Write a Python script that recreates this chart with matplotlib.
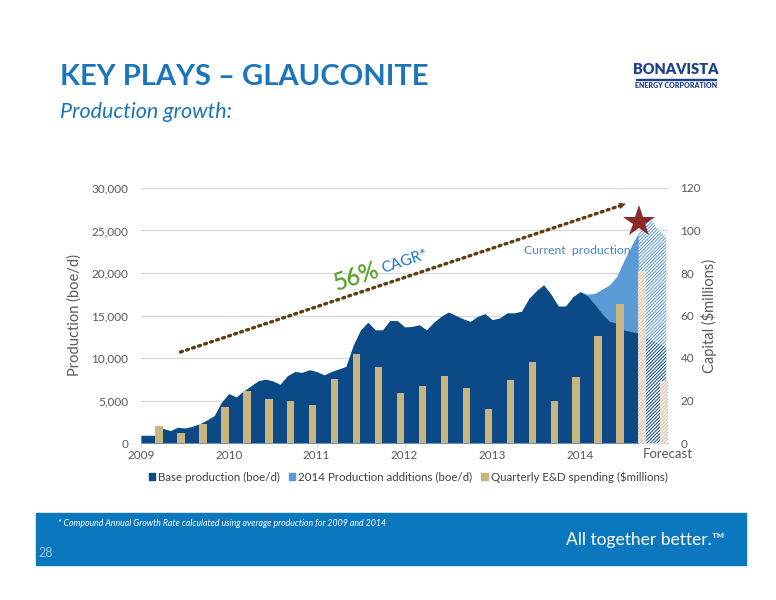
import matplotlib
matplotlib.use('Agg')
import matplotlib.pyplot as plt
from matplotlib.patches import Rectangle, Patch
import numpy as np

plt.rcParams['font.family'] = ['Lato', 'DejaVu Sans']
plt.rcParams['hatch.linewidth'] = 0.7

# monthly base production (boe/d), Jan 2009 .. Sep 2014
base_prod = [900, 900, 900, 1700, 1450, 1850, 1750, 1950, 2250, 2700, 3200, 4800,
             5800, 5400, 6100, 6700, 7300, 7500, 7300, 6900, 7900, 8400, 8300, 8600,
             8400, 8000, 8400, 8700, 9000, 11500, 13300, 14200, 13300, 13300, 14400, 14400,
             13650, 13700, 13900, 13300, 14200, 14900, 15400, 15000, 14600, 14300, 14900, 15200,
             14500, 14700, 15300, 15300, 15500, 17000, 17900, 18600, 17500, 16100, 16100, 17200,
             17800, 17300, 16300, 15200, 14300, 14100, 13300, 13100, 12900]
# 2014 production additions (boe/d), Jan 2014 .. Sep 2014
additions_2014 = [0, 200, 1300, 2900, 4300, 5500, 8200, 10100, 11900]

# forecast (Sep 2014 .. Dec 2014)
fc_time = [2014.667, 2014.75, 2014.80, 2014.87, 2014.98]
fc_base = [12700, 12400, 12200, 11800, 11300]
fc_total = [24800, 26000, 26500, 25300, 24200]

# quarterly E&D spending ($millions), Q1 2009 .. Q2 2014, then forecast Q3/Q4 2014
capex = [8.1, 4.6, 8.9, 16.9, 24.5, 20.7, 19.6, 17.9, 30.1, 41.9, 35.8, 23.5,
         26.8, 31.5, 25.9, 16.0, 29.6, 38.1, 19.8, 31.1, 50.4, 65.4]
capex_fc = [81, 29.2]

years = [2009, 2010, 2011, 2012, 2013, 2014]
current_prod = 26000

navy = '#0b4a87'
light = '#5b9bd5'
tan = '#c8b57f'
peach = '#e2b391'
grey = '#595959'
blue = '#1a75bb'

t = 2009 + np.arange(len(base_prod)) / 12.0
total = np.array(base_prod, dtype=float)
total[-len(additions_2014):] += additions_2014

fig = plt.figure(figsize=(7.76, 6), dpi=100)
ax = fig.add_axes([141 / 776, 1 - 443 / 600, 527 / 776, 255 / 600])
ax2 = ax.twinx()

ax.fill_between(t, 0, total, color=light, linewidth=0, zorder=2)
ax.fill_between(t, 0, base_prod, color=navy, linewidth=0, zorder=3)
ax.fill_between(fc_time, fc_base, fc_total, facecolor='white', edgecolor=light,
                hatch='//////////', linewidth=0, zorder=2)
ax.fill_between(fc_time, 0, fc_base, facecolor='white', edgecolor=navy,
                hatch='//////////', linewidth=0, zorder=3)

ax.set_xlim(2009, 2015)
ax.set_ylim(0, 30000)
ax.set_yticks(range(0, 30001, 5000))
ax.set_yticklabels([f'{v:,}' for v in range(0, 30001, 5000)])
ax.set_xticks(years)
ax.set_xticklabels([str(y) for y in years])
ax.grid(axis='y', color='#d9d9d9', linewidth=1, zorder=0)
ax.set_axisbelow(True)
for s in ['top', 'left', 'right']:
    ax.spines[s].set_visible(False)
ax.spines['bottom'].set_color('#d9d9d9')
ax.tick_params(axis='y', length=0, labelsize=8.5, labelcolor=grey, pad=9)
ax.tick_params(axis='x', length=3, color='#d9d9d9', labelsize=8.5, labelcolor=grey, pad=2)
ax.set_ylabel('Production (boe/d)', fontsize=10.5, color=grey, labelpad=7)

# bars on capital axis
qpos = 2009.205 + 0.25 * np.arange(len(capex))
ax2.bar(qpos, capex, width=0.085, color=tan, zorder=3)
fpos = 2009.205 + 0.25 * np.arange(len(capex), len(capex) + len(capex_fc))
ax2.bar(fpos, capex_fc, width=0.085, facecolor='white', edgecolor=peach,
        hatch='//////////', linewidth=0, zorder=3)
ax2.set_ylim(0, 120)
ax2.set_yticks(range(0, 121, 20))
for s in ax2.spines.values():
    s.set_visible(False)
ax2.tick_params(axis='y', length=0, labelsize=8.5, labelcolor=grey, pad=9)
ax2.set_ylabel('Capital ($millions)', fontsize=10.5, color=grey, labelpad=0)

# CAGR arrow
ax2.plot([2009.45, 2014.45], [42.8, 111.6], linestyle=(0, (0.6, 1.3)), color='#5c3d11',
         linewidth=2.4, dash_capstyle='round', zorder=5)
ax2.annotate('', xy=(2014.55, 113.0), xytext=(2014.42, 111.2),
             arrowprops=dict(arrowstyle='-|>', color='#5c3d11', lw=0, mutation_scale=12),
             zorder=6)
ax2.text(2011.45, 78.5, '56%', color='#5aa02c', fontsize=17, fontweight='semibold',
         rotation=18.5, ha='center', va='center', rotation_mode='anchor', zorder=6)
ax2.text(2012.0, 85.5, 'CAGR*', color=blue, fontsize=11, rotation=18.5,
         ha='center', va='center', rotation_mode='anchor', zorder=6)

ax.plot([2014.667], [current_prod], marker='*', markersize=24, color='#8b2a2a',
        markeredgewidth=0, zorder=7, clip_on=False)
ax2.text(2014.57, 90.5, 'Current  production', color='#4a86c5', fontsize=8.8,
         ha='right', va='center', zorder=6)
ax.text(2015.0, -0.02, 'Forecast', transform=ax.get_xaxis_transform(), color=grey,
        fontsize=9.5, ha='center', va='top')

handles = [Patch(color=navy), Patch(color=light), Patch(color=tan)]
labels = ['Base production (boe/d)', '2014 Production additions (boe/d)',
          'Quarterly E&D spending ($millions)']
fig.legend(handles, labels, loc='center', bbox_to_anchor=(408 / 776, 1 - 477 / 600),
           ncol=3, frameon=False, fontsize=8.3, handlelength=0.55, handleheight=0.55,
           handletextpad=0.25, columnspacing=0.8, labelcolor='#404040')

# header
fig.text(60 / 776, 1 - 77 / 600, 'KEY PLAYS – GLAUCONITE', fontsize=21, fontweight='bold',
         color=blue, va='center')
fig.text(60 / 776, 1 - 112 / 600, 'Production growth:', fontsize=15.5, style='italic',
         color=blue, va='center')
fig.text(676 / 776, 1 - 70 / 600, 'BONAVISTA', fontsize=10.5, fontweight='heavy',
         color='#1d3f8f', ha='center', va='center')
fig.add_artist(Rectangle((636 / 776, 1 - 80 / 600), 80 / 776, 1.5 / 600,
                         color='#1d3f8f', transform=fig.transFigure))
fig.text(676 / 776, 1 - 85.5 / 600, 'ENERGY CORPORATION', fontsize=5, fontweight='heavy',
         color='#1d3f8f', ha='center', va='center')

# footer
fig.add_artist(Rectangle((36 / 776, 1 - 565 / 600), 710 / 776, 52 / 600,
                         color='#0b77bf', transform=fig.transFigure, zorder=0))
fig.text(58 / 776, 1 - 523 / 600, '* Compound Annual Growth Rate calculated using average production for 2009 and 2014',
         fontsize=6.3, style='italic', color='white', va='center')
fig.text(38 / 776, 1 - 553 / 600, '28', fontsize=9, color='#9ec3e6', va='center')
fig.text(725 / 776, 1 - 540 / 600, 'All together better.™', fontsize=12.5, color='white',
         ha='right', va='center')

fig.savefig('out.png', dpi=100)
